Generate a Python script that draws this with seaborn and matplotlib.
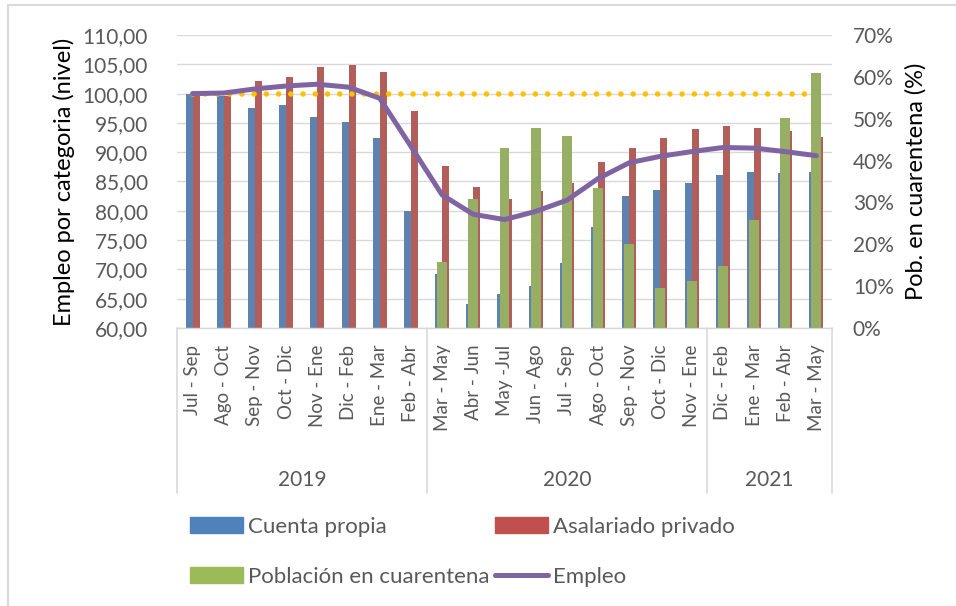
import numpy as np
import pandas as pd
import matplotlib
matplotlib.use("Agg")
import matplotlib.pyplot as plt
import matplotlib.transforms as mtransforms
from matplotlib.patches import Patch, Rectangle
from matplotlib.lines import Line2D
from matplotlib.ticker import FuncFormatter, MultipleLocator
import seaborn as sns

# periodos (trimestres moviles) agrupados por año
meses = ["Jul - Sep", "Ago - Oct", "Sep - Nov", "Oct - Dic", "Nov - Ene", "Dic - Feb",
         "Ene - Mar", "Feb - Abr",
         "Mar - May", "Abr - Jun", "May -Jul", "Jun - Ago", "Jul - Sep", "Ago - Oct",
         "Sep - Nov", "Oct - Dic", "Nov - Ene",
         "Dic - Feb", "Ene - Mar", "Feb - Abr", "Mar - May"]
anios = ["2019", "2020", "2021"]
meses_por_anio = [8, 9, 4]

cuenta_propia = [100.0, 99.6, 97.6, 98.1, 96.0, 95.1, 92.5, 80.0,
                 69.3, 64.1, 65.8, 67.1, 71.1, 77.3, 82.5, 83.6, 84.8,
                 86.1, 86.7, 86.5, 86.6]
asalariado = [100.0, 99.6, 102.1, 102.9, 104.5, 104.8, 103.7, 97.0,
              87.6, 84.0, 82.0, 83.4, 84.8, 88.3, 90.7, 92.4, 94.0,
              94.5, 94.1, 93.6, 92.6]
cuarentena = [np.nan, np.nan, np.nan, np.nan, np.nan, np.nan, np.nan, np.nan,
              15.8, 30.9, 42.9, 47.9, 45.9, 33.5, 20.1, 9.6, 11.2,
              14.8, 25.8, 50.2, 61.0]
empleo = [100.0, 100.1, 100.8, 101.3, 101.6, 101.1, 99.2, 91.0,
          82.7, 79.4, 78.5, 79.9, 81.8, 85.5, 88.2, 89.3, 90.1,
          90.8, 90.7, 90.1, 89.4]
referencia = [100.0, 100.0, 100.0, 100.0, 100.0, 100.0, 100.0, 100.0,
              100.0, 100.0, 100.0, 100.0, 100.0, 100.0, 100.0, 100.0, 100.0,
              100.0, 100.0, 100.0, 100.0]

AZUL, ROJO, VERDE, MORADO, AMARILLO = "#4F81BD", "#C0504D", "#9BBB59", "#8064A2", "#FFC000"
GRIS_TXT, GRIS_LIN = "#595959", "#D9D9D9"

# claves unicas para el eje categorico
anio_de = [a for a, n in zip(anios, meses_por_anio) for _ in range(n)]
claves = [f"{a} {m}" for a, m in zip(anio_de, meses)]

df_bar = pd.DataFrame({
    "clave": claves * 2,
    "serie": ["Cuenta propia"] * len(claves) + ["Asalariado privado"] * len(claves),
    "valor": cuenta_propia + asalariado,
})

sns.set_theme(style="white")
plt.rcParams["font.family"] = ["Lato", "DejaVu Sans"]

fig = plt.figure(figsize=(9.56, 6.06), dpi=100)
ax = fig.add_axes([177 / 956, 1 - 328 / 606, 655 / 956, 293 / 606])

sns.barplot(data=df_bar, x="clave", y="valor", hue="serie", order=claves,
            hue_order=["Cuenta propia", "Asalariado privado"], palette=[AZUL, ROJO],
            width=0.45, linewidth=0, legend=False, ax=ax)
ax.set_ylim(60, 110)
ax.yaxis.set_major_locator(MultipleLocator(5))
ax.yaxis.set_major_formatter(FuncFormatter(lambda v, _: f"{v:.2f}".replace(".", ",")))
ax.grid(axis="y", color=GRIS_LIN, linewidth=1.0)
ax.set_axisbelow(True)
for s in ["top", "right", "left"]:
    ax.spines[s].set_visible(False)
ax.spines["bottom"].set_color(GRIS_LIN)
ax.spines["bottom"].set_linewidth(1.0)

ax2 = ax.twinx()
sns.barplot(x=claves, y=cuarentena, order=claves, color=VERDE, width=0.32,
            linewidth=0, ax=ax2)
ax2.set_ylim(0, 70)
ax2.yaxis.set_major_locator(MultipleLocator(10))
ax2.yaxis.set_major_formatter(FuncFormatter(lambda v, _: f"{v:.0f}%"))
for s in ax2.spines.values():
    s.set_visible(False)

ax3 = ax.twinx()
sns.lineplot(x=claves, y=referencia, color=AMARILLO, linewidth=4.0, sort=False, ax=ax3)
sns.lineplot(x=claves, y=empleo, color=MORADO, linewidth=3.6, sort=False, ax=ax3)
ref_line = ax3.lines[0]
ref_line.set_dashes((0.001, 2.2))
ref_line.set_dash_capstyle("round")
ax3.lines[1].set_solid_capstyle("round")
ax3.lines[1].set_solid_joinstyle("round")
ax3.set_ylim(60, 110)
ax3.set_yticks([])
ax3.set_ylabel("")
for s in ax3.spines.values():
    s.set_visible(False)

ax.set_zorder(1)
ax2.set_zorder(2)
ax3.set_zorder(3)
ax2.patch.set_visible(False)
ax3.patch.set_visible(False)

# eje x: meses rotados + años
ax.set_xlim(-0.5, len(claves) - 0.5)
ax.set_xticks(range(len(claves)))
ax.set_xticklabels(meses, rotation=90, va="top", ha="center")
ax.tick_params(axis="x", length=0, pad=12, labelsize=13.5, labelcolor=GRIS_TXT)
ax.tick_params(axis="y", length=0, pad=21, labelsize=15, labelcolor=GRIS_TXT)
ax2.tick_params(axis="y", length=0, pad=15, labelsize=15, labelcolor=GRIS_TXT)
ax.set_xlabel("")
ax2.set_xlabel("")

trans = mtransforms.blended_transform_factory(ax.transData, ax.transAxes)
limites = np.concatenate([[0], np.cumsum(meses_por_anio)]) - 0.5
for x in limites:
    ax.plot([x, x], [0, -0.563], transform=trans, color=GRIS_LIN, lw=1.2, clip_on=False)
for a, x0, x1 in zip(anios, limites[:-1], limites[1:]):
    ax.text((x0 + x1) / 2, -0.519, a, transform=trans, ha="center", va="center",
            fontsize=15, color=GRIS_TXT)

ax.set_ylabel("Empleo por categoria (nivel)", fontsize=17, color="black")
ax.yaxis.set_label_coords(-0.155, 0.5)
ax2.set_ylabel("Pob. en cuarentena (%)", fontsize=17, color="black")
ax2.yaxis.set_label_coords(1.112, 0.5)

# leyenda
handles = [Patch(color=AZUL), Patch(color=VERDE), Patch(color=ROJO),
           Line2D([0], [0], color=MORADO, lw=3.6, solid_capstyle="round")]
labels = ["Cuenta propia", "Población en cuarentena", "Asalariado privado", "Empleo"]
leg = fig.legend(handles, labels, ncol=2, loc="upper left",
                 bbox_to_anchor=(190 / 956, 1 - 517 / 606), frameon=False,
                 fontsize=16, handlelength=2.4, handleheight=0.7, handletextpad=0.2,
                 columnspacing=0.25, labelspacing=1.35, borderpad=0, borderaxespad=0)
for t in leg.get_texts():
    t.set_color(GRIS_TXT)

# marco del grafico (recortado)
fig.add_artist(Rectangle((8 / 956, -0.1), 1.2, 1 - 5 / 606 + 0.1, transform=fig.transFigure,
                         facecolor="none", edgecolor=GRIS_LIN, lw=1.5))

fig.savefig("out.png", dpi=100)
